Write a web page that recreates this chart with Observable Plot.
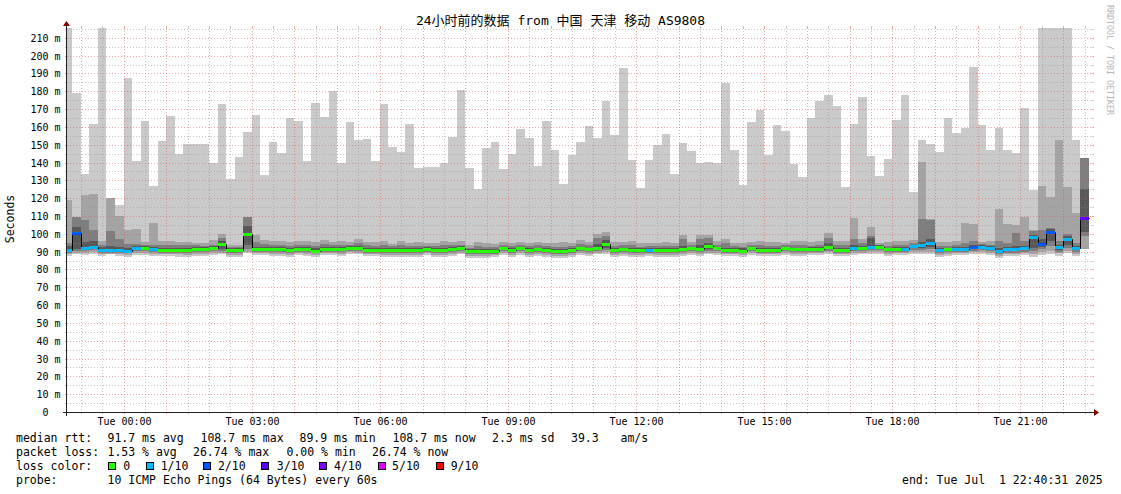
<!DOCTYPE html>
<html>
<head>
<meta charset="utf-8">
<script src="https://cdn.jsdelivr.net/npm/d3@7"></script>
<script src="https://cdn.jsdelivr.net/npm/@observablehq/plot@0.6"></script>
<style>
  html, body { margin: 0; padding: 0; background: #fff; }
  #wrap { position: relative; width: 1121px; height: 494px; overflow: hidden; background: #fff;
          font-family: "DejaVu Sans Mono", "Noto Sans CJK SC", monospace; color: #000; }
  #wrap svg { position: absolute; left: 0; top: 0; }
  .abs { position: absolute; white-space: pre; }
  .title { left: 0; width: 1121px; top: 13px; text-align: center; font-size: 13px; line-height: 16px; }
  .leg { font-size: 11.5px; line-height: 14px; }
  .box { position: absolute; width: 6px; height: 6px; border: 1px solid #000; }
  .ylab { font-size: 11.5px; line-height: 14px; width: 60px; text-align: center; transform: rotate(-90deg); }
  .credit { font-size: 8.3px; line-height: 10px; color: #b4b4b4; writing-mode: vertical-rl; }
</style>
</head>
<body>
<div id="wrap"></div>
<script>
// ---------------- data ----------------
const titleText = "24小时前的数据 from 中国 天津 移动 AS9808";
const graphStart = new Date(2025, 5, 30, 22, 40, 31);
const graphEnd   = new Date(2025, 6, 1, 22, 40, 31);
const firstBarStart = new Date(2025, 5, 30, 22, 36, 0);
const barMinutes = 12;

const lossColors = ["#26ff00", "#00b8ff", "#0059ff", "#5e00ff", "#7e00ff", "#dd00ff", "#ff0000"];
const lossLabels = ["0", "1/10", "2/10", "3/10", "4/10", "5/10", "9/10"];
const smokeGrays = ["#cacaca", "#a4a4a4", "#7e7e7e", "#585858"];

const yTickValues = [0,10,20,30,40,50,60,70,80,90,100,110,120,130,140,150,160,170,180,190,200,210];
const xTickTimes = [0,3,6,9,12,15,18,21].map(h => new Date(2025, 6, 1, h, 0, 0));
const xTickLabels = ["Tue 00:00","Tue 03:00","Tue 06:00","Tue 09:00","Tue 12:00","Tue 15:00","Tue 18:00","Tue 21:00"];

// ping percentiles per 12-minute bar (ms); 230 = off the top of the graph, null = not drawn
const p10 = [
230,178.8,133.6,161.6,230,null,116.3,187.2,140.9,163.2,
126.9,152.1,166.2,144.9,150.3,150.5,150.5,140.0,172.8,131.0,
143.2,157.2,166.7,133.0,151.5,145.1,165.0,163.2,140.9,173.4,
165.4,180.1,140.0,162.8,152.7,153.3,140.9,172.8,148.8,146.0,
161.6,137.0,137.6,137.6,139.5,154.4,180.7,137.0,124.9,148.2,
151.5,136.5,144.9,158.8,153.8,138.1,163.4,147.1,128.1,144.3,
151.5,160.5,153.8,174.5,155.5,193.0,141.5,125.8,141.5,150.1,
156.0,133.6,151.0,146.5,139.6,140.4,139.5,184.6,147.1,127.5,
162.8,169.5,144.3,161.1,157.7,139.4,132.0,165.0,174.5,177.9,
171.7,126.4,161.6,176.8,143.7,132.5,142.0,163.9,177.9,123.2,
152.7,150.5,146.0,165.0,156.6,159.4,193.6,161.1,147.1,159.4,
147.1,145.4,170.6,124.7,230,230,230,230,152.7,null];
const p9 = [
119.1,109.5,121.9,122.5,96.0,120.0,110.1,102.3,102.9,95.5,
106.3,95.7,95.9,95.5,95.5,95.0,95.0,96.4,99.9,94.0,
94.0,109.6,99.4,96.7,95.9,95.9,95.5,96.1,95.9,95.2,
96.4,95.4,96.1,95.5,97.2,95.5,95.2,95.7,94.4,96.1,
94.8,95.2,94.8,94.6,95.9,95.2,95.7,93.9,95.2,94.8,
94.4,95.5,94.8,95.2,94.8,95.5,94.8,94.8,95.2,94.8,
96.7,95.5,99.9,101.1,95.2,95.5,95.7,94.8,94.8,94.8,
95.5,94.8,99.4,95.5,99.6,99.6,96.1,97.0,94.8,94.8,
95.5,96.1,95.2,95.3,94.8,95.9,96.1,95.2,95.7,100.5,
96.1,95.7,108.9,96.9,103.7,94.8,95.2,96.1,95.7,96.5,
140.4,108.2,95.3,95.2,95.7,106.1,105.4,95.2,95.7,114.0,
105.7,105.1,109.2,102.3,126.9,120.8,152.7,126.4,111.8,142.6];
const p8 = [
94.7,109.2,107.9,102.3,94.0,101.7,97.0,94.5,94.5,93.8,
94.0,93.8,93.8,93.5,93.5,93.5,93.4,94.0,97.5,92.6,
92.6,109.2,95.5,94.2,93.8,93.8,93.4,94.0,93.8,93.2,
94.2,93.5,94.0,94.0,95.0,93.6,93.3,93.5,92.9,94.0,
93.0,93.3,93.2,92.9,93.8,93.5,94.0,92.3,93.0,92.8,
92.6,93.8,92.9,93.6,92.9,93.5,93.0,92.5,92.8,92.9,
94.5,93.5,97.5,98.5,93.0,93.5,93.6,92.8,92.9,92.9,
93.3,92.9,97.0,93.7,97.2,97.5,94.0,94.8,93.0,92.8,
93.5,94.0,93.1,93.2,93.5,93.7,94.0,93.4,93.6,97.5,
93.8,93.5,97.0,94.8,99.0,94.0,93.2,94.0,93.5,95.0,
108.5,107.9,93.0,93.2,93.5,95.0,96.0,94.2,94.0,96.0,
95.0,100.6,96.0,101.6,102.0,103.0,96.0,100.0,95.0,142.6];
const p7 = [
93.0,103.6,95.5,96.0,92.5,93.0,92.5,92.3,93.2,93.0,
92.5,92.2,92.3,92.2,92.0,92.5,92.5,93.0,96.0,91.8,
91.8,104.5,92.8,92.7,92.6,92.4,92.0,92.6,92.6,91.8,
92.6,92.6,92.7,93.3,93.3,92.2,92.2,92.0,91.9,92.0,
91.9,92.0,92.6,92.0,92.0,92.4,93.2,91.3,91.4,91.3,
91.5,92.8,92.0,92.8,92.0,92.3,92.0,91.3,91.4,92.0,
92.8,92.3,94.5,96.5,92.0,92.3,92.0,92.0,92.0,92.0,
92.0,92.0,93.0,92.8,93.5,95.0,92.8,92.2,92.2,91.8,
92.8,92.3,92.0,92.0,92.8,92.3,92.3,92.6,92.7,95.0,
92.0,92.0,94.0,93.0,97.6,93.6,92.3,92.7,92.6,94.0,
95.5,97.0,92.0,92.3,92.6,92.8,94.0,93.6,93.3,91.8,
92.5,93.0,93.0,99.5,97.0,102.5,94.0,98.5,93.2,125.3];
const median = [
91.1,100.4,91.9,92.6,91.1,91.1,91.0,90.6,91.9,91.9,
91.2,90.9,91.0,91.0,90.8,91.4,91.4,91.9,94.3,90.7,
90.7,99.9,91.5,91.5,91.5,91.2,90.8,91.5,91.5,90.6,
91.5,91.5,91.5,92.1,92.1,91.0,91.0,90.8,90.8,90.8,
90.8,90.8,91.5,90.8,90.8,91.3,92.1,90.2,90.2,90.2,
90.4,91.8,90.8,91.8,90.8,91.2,90.8,90.2,90.2,90.8,
91.8,91.2,92.1,94.1,90.8,91.2,90.8,90.8,90.9,90.8,
90.8,90.8,91.4,91.8,91.4,93.3,91.8,91.0,91.1,90.6,
91.8,91.1,90.9,90.9,91.8,91.2,91.2,91.6,91.6,92.6,
90.9,90.9,91.8,92.0,92.6,92.6,91.2,91.6,91.6,92.9,
93.9,95.0,90.9,91.2,91.6,91.6,92.6,92.6,92.2,90.2,
91.2,91.2,91.8,98.2,94.4,101.2,92.6,96.9,92.0,108.8];
const p4 = [
90.3,91.5,91.0,91.6,90.3,90.3,90.2,89.8,91.0,91.0,
90.4,90.1,90.2,90.2,90.0,90.5,90.6,91.0,91.5,89.9,
89.9,93.5,90.7,90.7,90.6,90.4,90.0,90.7,90.6,89.8,
90.7,90.7,90.6,91.3,91.2,90.2,90.1,90.0,90.0,89.9,
90.0,90.0,90.7,90.0,90.0,90.5,91.2,89.4,89.3,89.4,
89.6,91.0,90.0,91.0,90.0,90.4,90.0,89.4,89.4,90.0,
91.0,90.4,91.2,92.0,90.0,90.4,90.0,90.0,90.1,90.0,
90.0,90.0,90.6,91.0,90.6,91.5,91.0,90.2,90.3,89.8,
91.0,90.3,90.1,90.1,91.0,90.4,90.4,90.8,90.8,91.4,
90.1,90.1,91.0,91.2,91.6,91.6,90.4,90.8,90.8,91.8,
92.0,92.5,90.0,90.4,90.8,90.8,91.5,91.6,91.3,89.4,
90.3,90.3,90.9,92.0,92.5,96.0,91.0,93.5,91.0,101.0];
const p3 = [
89.5,90.5,90.2,90.8,89.5,89.4,89.4,89.0,90.2,90.2,
89.6,89.3,89.4,89.3,89.2,89.7,89.8,90.2,90.5,89.0,
89.0,91.5,89.9,89.9,89.8,89.6,89.2,89.9,89.8,89.0,
89.9,89.9,89.8,90.5,90.4,89.4,89.3,89.2,89.2,89.1,
89.2,89.2,89.9,89.2,89.2,89.7,90.4,88.6,88.5,88.6,
88.8,90.2,89.2,90.2,89.2,89.6,89.2,88.6,88.6,89.2,
90.2,89.6,90.4,90.8,89.2,89.6,89.2,89.2,89.3,89.2,
89.2,89.2,89.8,90.2,89.8,90.5,90.2,89.4,89.5,89.0,
90.2,89.5,89.3,89.3,90.2,89.6,89.6,90.0,90.0,90.6,
89.3,89.3,90.2,90.4,90.8,90.8,89.6,90.0,90.0,90.9,
91.0,91.2,89.2,89.6,90.0,90.0,90.6,90.7,90.4,88.6,
89.5,89.5,90.0,90.5,91.5,93.0,90.0,92.0,90.0,99.0];
const p2 = [
88.6,89.5,89.3,89.8,88.5,88.4,88.5,88.1,89.3,89.2,
88.7,88.4,88.5,88.4,88.2,88.8,88.9,89.3,89.5,88.1,
88.0,90.0,89.0,89.0,88.9,88.7,88.3,89.0,88.9,88.1,
89.0,89.0,88.9,89.6,89.5,88.5,88.4,88.3,88.3,88.2,
88.3,88.3,89.0,88.3,88.3,88.8,89.5,87.7,87.6,87.7,
87.9,89.3,88.3,89.3,88.3,88.7,88.3,87.7,87.7,88.3,
89.3,88.7,89.5,89.8,88.3,88.7,88.3,88.3,88.4,88.3,
88.3,88.3,88.9,89.3,88.9,89.5,89.3,88.5,88.6,88.1,
89.3,88.6,88.4,88.4,89.3,88.7,88.7,89.1,89.1,89.6,
88.4,88.4,89.3,89.5,89.8,89.9,88.7,89.1,89.1,89.9,
90.0,90.0,88.3,88.7,89.1,89.1,89.6,89.7,89.4,87.7,
88.6,88.6,89.0,88.5,90.0,90.5,89.0,90.5,88.8,91.6];
const p1 = [
87.5,88.5,88.2,88.7,87.4,87.3,87.4,87.0,88.2,88.0,
87.6,87.3,87.4,87.2,87.0,87.7,87.8,88.2,88.5,87.0,
86.8,89.0,87.9,87.9,87.8,87.6,87.2,87.9,87.8,87.0,
87.9,87.9,87.8,88.5,88.4,87.4,87.3,87.2,87.2,87.1,
87.2,87.2,87.9,87.2,87.2,87.7,88.4,86.6,86.5,86.6,
86.8,88.2,87.2,88.2,87.2,87.6,87.2,86.6,86.6,87.2,
88.2,87.6,88.4,88.7,87.2,87.6,87.2,87.2,87.3,87.2,
87.2,87.2,87.8,88.2,87.8,88.4,88.2,87.4,87.5,87.0,
88.2,87.5,87.3,87.3,88.2,87.6,87.6,88.0,88.0,88.5,
87.3,87.3,88.2,88.4,88.7,88.8,87.6,88.0,88.0,88.8,
88.9,88.8,87.2,87.6,88.0,88.0,88.5,88.6,88.3,86.6,
87.5,87.5,87.9,87.0,88.0,88.5,87.5,89.5,87.5,91.0];
// loss bucket per bar (index into lossColors)
const lossBucket = [
1,2,1,1,1,1,1,1,1,0,
1,0,0,0,0,0,0,0,0,0,
0,0,0,0,0,0,0,0,0,0,
0,0,0,0,0,0,0,0,0,0,
0,0,0,0,0,0,0,0,0,0,
0,0,0,0,0,0,0,0,0,0,
0,0,0,0,0,0,0,0,1,0,
0,0,0,0,0,0,0,0,0,0,
0,0,0,0,0,0,0,0,0,0,
0,0,1,0,1,0,0,0,1,1,
1,1,1,0,1,1,2,1,1,1,
1,1,1,1,2,2,1,1,1,3];

const statLines = [
  [[16,"median rtt:"],[107.5,"91.7 ms avg"],[200.5,"108.7 ms max"],[299.5,"89.9 ms min"],[392.5,"108.7 ms now"],[492,"2.3 ms sd"],[571,"39.3"],[620.5,"am/s"]],
  [[16,"packet loss:"],[107.5,"1.53 % avg"],[193,"26.74 % max"],[286.5,"0.00 % min"],[372,"26.74 % now"]],
  [[16,"loss color:"]],
  [[16,"probe:"],[107.5,"10 ICMP Echo Pings (64 Bytes) every 60s"],[902,"end: Tue Jul  1 22:40:31 2025"]]
];
const lineCenters = [438, 452, 466, 480];
const lossBoxX = [108.2, 146.4, 202.9, 260.7, 318.9, 377.5, 435.7];
const lossTextX = [123.2, 160.7, 217.9, 276.8, 333.9, 392.1, 450.7];

// ---------------- build ----------------
const stepMs = barMinutes * 60 * 1000;
const rows = median.map((m, k) => ({
  t0: new Date(+firstBarStart + k * stepMs),
  t1: new Date(+firstBarStart + (k + 1) * stepMs),
  lows: [p1[k], p2[k], p3[k], p4[k]],
  highs: [p10[k], p9[k], p8[k], p7[k]],
  med: m,
  loss: lossBucket[k]
}));
const lineData = rows.map(r => ({t: r.t0, v: r.med}));
lineData.push({t: rows[rows.length - 1].t1, v: rows[rows.length - 1].med});

const yMax = 215.5;
const minorY = d3.range(5, yMax, 10);
const majorY = d3.range(10, yMax, 10);
const halfHours = d3.timeMinute.every(30).range(graphStart, graphEnd).filter(d => d.getMinutes() === 30);
const hours = d3.timeHour.every(1).range(graphStart, graphEnd);

const gridGray = "#909090", gridRed = "#e05050";

const bandMarks = smokeGrays.map((g, i) =>
  Plot.rect(rows.filter(r => r.highs[i] != null), {
    x1: "t0", x2: "t1", y1: d => d.lows[i], y2: d => d.highs[i],
    fill: g, clip: true, shapeRendering: "crispEdges"
  })
);

const plot = Plot.plot({
  width: 1121, height: 430,
  marginLeft: 67, marginRight: 29, marginTop: 28, marginBottom: 18,
  style: {background: "transparent", fontFamily: "DejaVu Sans Mono", fontSize: "10px", color: "#000"},
  x: {type: "time", domain: [graphStart, graphEnd], round: true},
  y: {domain: [0, yMax], round: true},
  marks: [
    ...bandMarks,
    Plot.ruleY(minorY, {stroke: gridGray, strokeOpacity: 0.5, strokeDasharray: "1,2"}),
    Plot.ruleX(halfHours, {stroke: gridGray, strokeOpacity: 0.5, strokeDasharray: "1,2"}),
    Plot.ruleY(majorY, {stroke: gridRed, strokeOpacity: 0.5, strokeDasharray: "1,2"}),
    Plot.ruleX(hours, {stroke: gridRed, strokeOpacity: 0.5, strokeDasharray: "1,2"}),
    Plot.line(lineData, {x: "t", y: "v", curve: "step-after", stroke: "#000", strokeWidth: 1, clip: true}),
    Plot.ruleY(rows, {y: "med", x1: "t0", x2: "t1", stroke: d => lossColors[d.loss], strokeWidth: 3, clip: true}),
    Plot.axisY({ticks: yTickValues, tickFormat: d => d === 0 ? "0\u00a0\u00a0" : d + " m", tickSize: 0, tickPadding: 7, label: null, fontSize: 10}),
    Plot.axisX({ticks: xTickTimes, tickFormat: d => xTickLabels[xTickTimes.findIndex(t => +t === +d)], tickSize: 0, tickPadding: 5, label: null, fontSize: 10})
  ]
});

// axis lines, grid stubs and arrows (RRDtool style) using the plot's scales
const X = plot.scale("x"), Y = plot.scale("y");
const xL = X.apply(graphStart), xR = X.apply(graphEnd);
const yB = Y.apply(0), yT = Y.apply(yMax);
const deco = d3.select(plot).append("g");
function stub(x1, y1, x2, y2, c) {
  deco.append("line").attr("x1", x1).attr("y1", y1).attr("x2", x2).attr("y2", y2)
    .attr("stroke", c).attr("stroke-opacity", 0.5).attr("stroke-width", 1);
}
minorY.forEach(v => { const y = Y.apply(v) + 0.5; stub(xL - 2, y, xL, y, gridGray); stub(xR, y, xR + 2, y, gridGray); });
majorY.forEach(v => { const y = Y.apply(v) + 0.5; stub(xL - 2, y, xL, y, gridRed); stub(xR, y, xR + 2, y, gridRed); });
halfHours.forEach(t => { const x = X.apply(t) + 0.5; stub(x, yB, x, yB + 2, gridGray); stub(x, yT - 2, x, yT, gridGray); });
hours.forEach(t => { const x = X.apply(t) + 0.5; stub(x, yB, x, yB + 2, gridRed); stub(x, yT - 2, x, yT, gridRed); });
deco.append("line").attr("x1", xL - 4).attr("x2", xR + 4).attr("y1", yB + 0.5).attr("y2", yB + 0.5).attr("stroke", "#202020");
deco.append("line").attr("x1", xL - 0.5).attr("x2", xL - 0.5).attr("y1", yB + 4).attr("y2", yT - 4).attr("stroke", "#202020");
deco.append("polygon").attr("points", `${xR+2},${yB-3} ${xR+2},${yB+4} ${xR+7},${yB+0.5}`).attr("fill", "#800000");
deco.append("polygon").attr("points", `${xL-4},${yT-2} ${xL+3},${yT-2} ${xL-0.5},${yT-7}`).attr("fill", "#800000");

const wrap = document.getElementById("wrap");
wrap.appendChild(plot);

function addDiv(cls, text, styles) {
  const d = document.createElement("div");
  d.className = "abs " + cls;
  d.textContent = text;
  Object.assign(d.style, styles);
  wrap.appendChild(d);
  return d;
}
addDiv("title", titleText, {});
addDiv("ylab", "Seconds", {left: "-20px", top: "212px"});
addDiv("credit", "RRDTOOL / TOBI OETIKER", {left: "1105px", top: "5px"});

statLines.forEach((items, li) => {
  items.forEach(([x, t]) => addDiv("leg", t, {left: x + "px", top: (lineCenters[li] - 7) + "px"}));
});
lossColors.forEach((c, i) => {
  const b = document.createElement("div");
  b.className = "box";
  Object.assign(b.style, {left: lossBoxX[i] + "px", top: (lineCenters[2] - 4) + "px", background: c});
  wrap.appendChild(b);
  addDiv("leg", lossLabels[i], {left: lossTextX[i] + "px", top: (lineCenters[2] - 7) + "px"});
});
</script>
</body>
</html>
